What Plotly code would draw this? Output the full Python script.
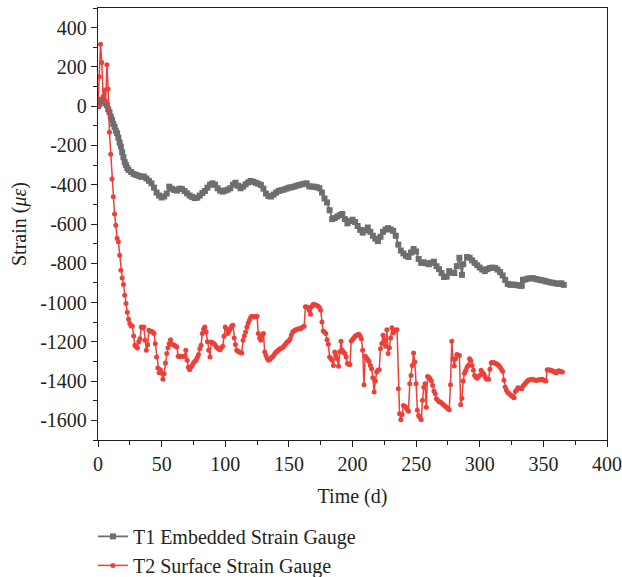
import plotly.graph_objects as go

# T1 Embedded Strain Gauge (grey)
t1_days = [0,1,2,3,4,5,6,7,8,9,10,11,12,13,14,15,16,17,18,19,20,21,22,23,24,26,28,30,32,34,36,38,40,42,44,46,48,50,52,54,56,58,60,62,64,66,68,70,72,74,76,78,80,82,84,86,88,90,92,94,96,98,100,102,104,106,108,110,112,114,116,118,120,122,124,126,128,130,132,134,136,138,140,142,144,146,148,150,152,154,156,158,160,162,164,166,168,170,172,174,176,178,180,182,184,186,188,190,192,194,196,198,200,202,204,206,208,210,212,214,216,218,220,222,224,226,228,230,232,234,236,238,240,242,244,246,248,250,252,254,256,258,260,262,264,266,268,270,272,274,276,278,280,282,284,286,287,290,292,294,296,298,300,302,304,306,308,310,312,314,316,318,320,322,324,326,328,330,332,333,334,336,338,340,342,344,346,348,350,352,354,356,358,360,362,364,366]
t1_vals = [0,10,28,32,30,23,15,5,-15,-30,-53,-70,-90,-105,-125,-138,-160,-185,-206,-235,-260,-285,-300,-315,-325,-335,-345,-350,-355,-360,-358,-368,-380,-393,-415,-440,-455,-465,-460,-445,-410,-420,-427,-430,-420,-422,-432,-444,-455,-462,-468,-466,-455,-442,-432,-415,-400,-393,-400,-418,-430,-435,-430,-425,-418,-400,-390,-405,-418,-410,-398,-388,-381,-385,-390,-395,-401,-420,-445,-458,-460,-450,-440,-432,-428,-425,-420,-415,-413,-410,-405,-402,-398,-395,-393,-408,-410,-410,-413,-418,-440,-470,-490,-530,-575,-570,-562,-555,-549,-575,-597,-585,-578,-590,-610,-630,-644,-632,-618,-640,-660,-675,-687,-665,-640,-628,-621,-628,-635,-660,-705,-735,-750,-762,-768,-745,-727,-740,-778,-798,-795,-800,-805,-798,-792,-815,-830,-850,-870,-868,-840,-848,-850,-815,-772,-859,-805,-768,-772,-785,-798,-810,-822,-832,-840,-830,-824,-822,-824,-832,-845,-862,-885,-905,-910,-908,-910,-912,-915,-914,-884,-882,-878,-876,-876,-880,-883,-886,-888,-892,-895,-898,-900,-903,-905,-902,-910]

# T2 Surface Strain Gauge (red)
t2_days = list(range(0, 366))
t2_vals = [0,150,316,222,49,83,24,211,88,-133,-245,-371,-461,-549,-606,-673,-691,-759,-835,-875,-908,-963,-1005,-1050,-1085,-1107,-1119,-1119,-1170,-1218,-1225,-1231,-1200,-1184,-1124,-1130,-1124,-1192,-1243,-1215,-1141,-1145,-1147,-1150,-1158,-1210,-1277,-1333,-1357,-1342,-1360,-1391,-1362,-1308,-1260,-1230,-1209,-1189,-1213,-1215,-1218,-1222,-1226,-1274,-1276,-1275,-1274,-1274,-1274,-1243,-1294,-1330,-1342,-1330,-1320,-1308,-1300,-1294,-1280,-1264,-1235,-1218,-1158,-1135,-1124,-1150,-1200,-1243,-1277,-1201,-1205,-1209,-1215,-1226,-1232,-1238,-1240,-1230,-1223,-1172,-1124,-1135,-1158,-1145,-1133,-1120,-1116,-1180,-1214,-1243,-1248,-1252,-1255,-1257,-1192,-1170,-1150,-1125,-1104,-1090,-1075,-1070,-1072,-1073,-1071,-1070,-1158,-1180,-1192,-1170,-1158,-1252,-1270,-1285,-1294,-1290,-1282,-1277,-1270,-1260,-1252,-1247,-1242,-1235,-1233,-1230,-1222,-1215,-1206,-1200,-1195,-1185,-1165,-1150,-1145,-1140,-1138,-1135,-1134,-1133,-1128,-1124,-1121,-1022,-1023,-1025,-1040,-1060,-1020,-1010,-1010,-1012,-1015,-1019,-1025,-1039,-1099,-1145,-1150,-1158,-1190,-1213,-1277,-1285,-1294,-1320,-1252,-1270,-1286,-1325,-1250,-1197,-1243,-1255,-1260,-1277,-1311,-1314,-1316,-1196,-1188,-1180,-1172,-1168,-1164,-1162,-1170,-1184,-1243,-1418,-1274,-1282,-1290,-1300,-1320,-1337,-1383,-1456,-1400,-1354,-1345,-1342,-1235,-1209,-1167,-1190,-1223,-1138,-1260,-1230,-1180,-1128,-1155,-1145,-1140,-1138,-1439,-1566,-1597,-1570,-1524,-1528,-1533,-1545,-1553,-1413,-1371,-1320,-1257,-1303,-1413,-1549,-1575,-1585,-1597,-1498,-1431,-1413,-1533,-1376,-1380,-1388,-1400,-1422,-1450,-1464,-1490,-1498,-1505,-1507,-1512,-1518,-1523,-1529,-1534,-1540,-1546,-1418,-1197,-1286,-1323,-1286,-1265,-1268,-1270,-1520,-1487,-1400,-1360,-1345,-1330,-1320,-1286,-1297,-1320,-1345,-1371,-1380,-1385,-1378,-1371,-1345,-1355,-1362,-1375,-1388,-1390,-1391,-1340,-1306,-1305,-1306,-1308,-1312,-1316,-1320,-1330,-1340,-1350,-1396,-1430,-1447,-1458,-1463,-1469,-1475,-1480,-1485,-1453,-1445,-1434,-1436,-1438,-1439,-1425,-1417,-1410,-1403,-1396,-1394,-1392,-1391,-1393,-1395,-1396,-1396,-1394,-1393,-1392,-1391,-1395,-1398,-1400,-1342,-1343,-1344,-1345,-1348,-1350,-1354,-1359,-1352,-1347,-1350,-1352,-1354]

x_ticks = [0, 50, 100, 150, 200, 250, 300, 350, 400]
y_ticks = [400, 200, 0, -200, -400, -600, -800, -1000, -1200, -1400, -1600]
y_ticktext = ["400", "200", "0", "-200", "-400", "-600", "-800", "-1000", "-1200", "-1400", "-1600"]

FONT = "Liberation Serif"
GREY = "#6d6e71"
RED = "#ec4038"
AX = "#231f20"

fig = go.Figure()
fig.add_trace(go.Scatter(
    x=t1_days, y=t1_vals, mode="lines+markers", name="T1 Embedded Strain Gauge",
    line=dict(color=GREY, width=1.8),
    marker=dict(symbol="square", size=6, color=GREY),
))
fig.add_trace(go.Scatter(
    x=t2_days, y=t2_vals, mode="lines+markers", name="T2 Surface Strain Gauge",
    line=dict(color=RED, width=1.5),
    marker=dict(symbol="circle", size=5, color=RED),
))

axis_common = dict(
    showgrid=False, zeroline=False, showline=True, linecolor=AX, linewidth=1.3,
    mirror=True, ticks="outside", ticklen=6, tickwidth=1.3, tickcolor=AX,
    tickfont=dict(family=FONT, size=20, color=AX), automargin=False,
)
fig.update_xaxes(
    range=[0, 400], tickvals=x_ticks,
    minor=dict(ticks="outside", ticklen=4, tickwidth=1.2, tickcolor=AX, dtick=25, tick0=0),
    title=dict(text="Time (d)", font=dict(family=FONT, size=20, color=AX), standoff=14),
    **axis_common,
)
fig.update_yaxes(
    range=[-1700, 500], tickvals=y_ticks, ticktext=y_ticktext,
    minor=dict(ticks="outside", ticklen=4, tickwidth=1.2, tickcolor=AX, dtick=100, tick0=0),
    title=dict(text="Strain (<i>με</i>)", font=dict(family=FONT, size=20, color=AX), standoff=8),
    **axis_common,
)

fig.update_layout(
    width=622, height=577,
    margin=dict(l=98, r=15, t=8, b=137, autoexpand=False),
    paper_bgcolor="white", plot_bgcolor="white",
    showlegend=True,
    legend=dict(
        x=-0.01, xanchor="left", y=-0.178, yanchor="top",
        font=dict(family=FONT, size=20, color=AX),
        bgcolor="rgba(0,0,0,0)", tracegroupgap=0,
    ),
)

fig.write_html("out.html")
